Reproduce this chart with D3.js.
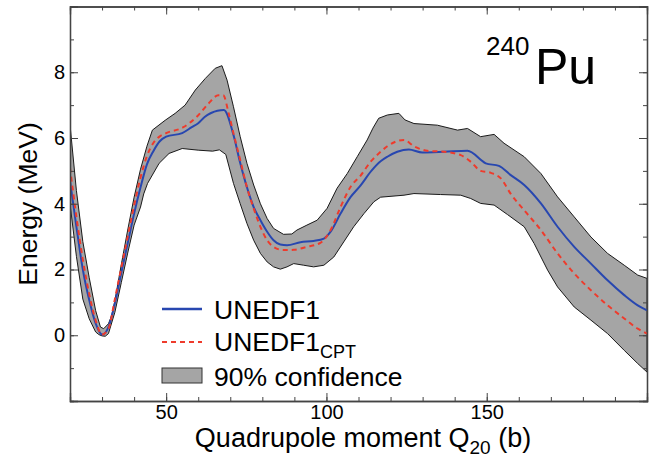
<!DOCTYPE html>
<html>
<head>
<meta charset="utf-8">
<script src="https://cdn.jsdelivr.net/npm/d3@7"></script>
<style>
  body { margin: 0; background: #fff; }
  svg { display: block; font-family: "Liberation Sans", Arial, sans-serif; }
</style>
</head>
<body>
<svg id="chart" width="656" height="461"></svg>
<script>
// UNEDF1 (blue solid)
const unedfQ = [20, 22, 24, 26, 28, 30, 32, 34, 36, 38, 40, 42, 44, 46, 48, 50, 55, 58, 60, 62, 64, 66, 68,
  71, 73.1, 75.2, 77.3, 79.4, 81.5, 83.5, 85.6, 87.7, 91.9, 96, 99.2, 101.3, 104.4, 107.5, 110.6, 114, 117,
  119, 122.1, 125.7, 129.9, 136.7, 144, 149.7, 153.8, 157.5, 161.7, 166.9, 172.1, 177.3, 182.5, 187.7, 192.9, 197.1, 200];
const unedfE = [4.7, 3.3, 2.0, 1.07, 0.36, 0.02, 0.25, 0.97, 1.9, 2.8, 3.7, 4.5, 5.2, 5.6, 5.9, 6.04, 6.15, 6.33, 6.45, 6.64, 6.76, 6.83, 6.85,
  6.09, 5.24, 4.5, 3.9, 3.5, 3.15, 2.89, 2.76, 2.74, 2.83, 2.87, 2.94, 3.15, 3.7, 4.2, 4.55, 5.0, 5.3,
  5.43, 5.58, 5.65, 5.56, 5.58, 5.61, 5.23, 5.15, 4.87, 4.57, 4.01, 3.3, 2.69, 2.18, 1.67, 1.22, 0.91, 0.76];

// UNEDF1_CPT (red dashed)
const cptQ = [20, 22, 24, 26, 28, 30, 32, 34, 36, 38, 40, 42, 44, 46, 48, 50, 55.2, 60.1, 63.2, 66.3, 67.8,
  69.5, 71, 73.1, 75.2, 77.3, 79.4, 81.5, 83.5, 86.6, 89.8, 93.9, 98.1, 101.3, 104.4, 107.5, 110.6, 113.8,
  116.9, 119, 124.2, 127.3, 131.5, 136.7, 141.9, 145, 148.1, 151.3, 154.4, 157.5, 161.7, 166.9, 172.1,
  177.3, 182.5, 187.7, 192.9, 197.1, 200];
const cptE = [5.1, 3.6, 2.3, 1.25, 0.45, 0.02, 0.2, 1.1, 2.05, 3.0, 3.95, 4.8, 5.45, 5.85, 6.05, 6.15, 6.32, 6.7, 7.05, 7.3, 7.3,
  6.75, 6.14, 5.33, 4.5, 3.86, 3.3, 2.89, 2.69, 2.59, 2.6, 2.69, 2.81, 3.2, 3.9, 4.51, 4.85, 5.28,
  5.58, 5.75, 5.94, 5.75, 5.61, 5.58, 5.48, 5.28, 5.0, 4.94, 4.77, 4.3, 3.8, 3.2, 2.49,
  1.88, 1.37, 0.91, 0.51, 0.2, 0.05];

// 90% confidence band, upper edge
const upperQ = [20, 22, 24, 26, 28, 29.5, 30.5, 32, 33, 34, 36, 38, 40, 42, 44, 45.7, 49.7, 52.8, 55.9, 59.1, 62.2,
  65.3, 67.4, 69, 71, 73.1, 75.2, 77.3, 79.4, 81.5, 83.5, 86.6, 89.2, 90.8, 93.9, 97.1, 100.2, 103.3, 106.5,
  109.6, 112.7, 114.5, 116.3, 119, 122.6, 124.5, 127.3, 134.6, 140.9, 144, 148.1, 152.3, 155.4, 161.7, 166.9,
  172.1, 177.3, 182.5, 187.7, 192.9, 197.1, 200];
const upperE = [6.4, 4.4, 2.85, 1.75, 0.75, 0.25, 0.2, 0.35, 0.6, 1.05, 2.15, 3.2, 4.2, 5.05, 5.75, 6.24, 6.54, 6.75, 7.0, 7.46, 7.81,
  8.12, 8.2, 7.76, 6.95, 6.04, 5.23, 4.57, 4.0, 3.55, 3.25, 3.07, 3.08, 3.2, 3.35, 3.5, 3.86, 4.47, 4.92,
  5.43, 5.94, 6.3, 6.6, 6.7, 6.75, 6.55, 6.44, 6.39, 6.24, 6.29, 6.04, 6.11, 5.84, 5.43, 4.92,
  4.21, 3.6, 2.99, 2.49, 2.13, 1.83, 1.73];

// 90% confidence band, lower edge
const lowerQ = [20, 22, 24, 26, 28, 29, 30, 31, 32, 34, 36, 38, 40, 42, 43, 44.2, 47.8, 50.9, 55, 60, 64.5, 66.6,
  68.6, 71, 73.1, 75.2, 77.3, 79.4, 81.5, 83.5, 85.6, 87.7, 89.8, 92.9, 96, 99.2, 102.3, 105.4, 108.5, 111.7,
  114.8, 116.9, 124.2, 127.3, 135.6, 141.9, 145, 148.1, 152.3, 156.5, 161.7, 164.8, 169, 172.1, 177.3, 182.5,
  187.7, 192.9, 197.1, 200];
const lowerE = [4.0, 2.4, 1.1, 0.5, 0.1, 0.02, -0.02, -0.03, 0.05, 0.7, 1.6, 2.5, 3.35, 3.9, 4.3, 4.62, 5.23, 5.53, 5.68, 5.63, 5.6, 5.64,
  5.5, 4.62, 4.0, 3.4, 2.89, 2.49, 2.23, 2.08, 2.01, 2.08, 2.18, 2.13, 2.08, 2.13, 2.38, 2.84, 3.3, 3.7,
  4.06, 4.2, 4.26, 4.31, 4.28, 4.26, 4.16, 4.01, 3.96, 3.67, 3.3, 2.79, 1.98, 1.47, 0.86, 0.46,
  0.05, -0.46, -0.86, -1.12];

const xMajor = [50, 100, 150];
const yMajor = [0, 2, 4, 6, 8];

const width = 656, height = 461;
const margin = { top: 6.5, right: 9, bottom: 60, left: 70 };

const svg = d3.select('#chart');

const x = d3.scaleLinear().domain([20, 200]).range([margin.left, width - margin.right]);
const y = d3.scaleLinear().domain([-2, 10]).range([height - margin.bottom, margin.top]);

svg.append('clipPath')
    .attr('id', 'plot-clip')
  .append('rect')
    .attr('x', x(20))
    .attr('y', y(10))
    .attr('width', x(200) - x(20))
    .attr('height', y(-2) - y(10));

const plot = svg.append('g').attr('clip-path', 'url(#plot-clip)');

const line = d3.line()
    .x(d => x(d[0]))
    .y(d => y(d[1]))
    .curve(d3.curveMonotoneX);

const pts = (qs, es) => qs.map((q, i) => [q, es[i]]);

// confidence band: upper edge forward, lower edge back
const bandPts = pts(upperQ, upperE).concat(pts(lowerQ, lowerE).reverse());
plot.append('path')
    .attr('d', d3.line().x(d => x(d[0])).y(d => y(d[1])).curve(d3.curveLinearClosed)(bandPts))
    .attr('fill', '#a5a5a5')
    .attr('stroke', '#1a1a1a')
    .attr('stroke-width', 1);

plot.append('path')
    .attr('d', line(pts(unedfQ, unedfE)))
    .attr('fill', 'none')
    .attr('stroke', '#2847b0')
    .attr('stroke-width', 2);

plot.append('path')
    .attr('d', line(pts(cptQ, cptE)))
    .attr('fill', 'none')
    .attr('stroke', '#ee3b2c')
    .attr('stroke-width', 2)
    .attr('stroke-dasharray', '5,4');

// Axes (ticks point inward, major + minor)
const axisColor = '#444';
function styleAxis(g) {
    g.select('.domain').attr('stroke', axisColor).attr('stroke-width', 1.3);
    g.selectAll('.tick line').attr('stroke', axisColor).attr('stroke-width', 1);
    g.selectAll('.tick text').attr('fill', '#000').style('font-size', '20px')
        .style('font-family', '"Liberation Sans", Arial, sans-serif');
}
const xMinor = d3.range(20, 201, 10);
const yMinor = d3.range(-2, 10.1, 1);
const yAll = d3.range(-2, 10.1, 2);

const bottomY = y(-2), topY = y(10), leftX = x(20), rightX = x(200);

// bottom
svg.append('g').attr('transform', `translate(0,${bottomY})`)
    .call(d3.axisBottom(x).tickValues(xMinor).tickSize(-4).tickFormat('')).call(styleAxis);
svg.append('g').attr('transform', `translate(0,${bottomY})`)
    .call(d3.axisBottom(x).tickValues(xMajor).tickSize(-8).tickPadding(4).tickFormat(d3.format('d'))).call(styleAxis);
// top
svg.append('g').attr('transform', `translate(0,${topY})`)
    .call(d3.axisTop(x).tickValues(xMinor).tickSize(-4).tickFormat('')).call(styleAxis);
svg.append('g').attr('transform', `translate(0,${topY})`)
    .call(d3.axisTop(x).tickValues(xMajor).tickSize(-8).tickFormat('')).call(styleAxis);
// left
svg.append('g').attr('transform', `translate(${leftX},0)`)
    .call(d3.axisLeft(y).tickValues(yMinor).tickSize(-4).tickFormat('')).call(styleAxis);
svg.append('g').attr('transform', `translate(${leftX},0)`)
    .call(d3.axisLeft(y).tickValues(yAll).tickSize(-8).tickPadding(5)
        .tickFormat(d => yMajor.includes(d) ? d : '')).call(styleAxis);
// right
svg.append('g').attr('transform', `translate(${rightX},0)`)
    .call(d3.axisRight(y).tickValues(yMinor).tickSize(-4).tickFormat('')).call(styleAxis);
svg.append('g').attr('transform', `translate(${rightX},0)`)
    .call(d3.axisRight(y).tickValues(yAll).tickSize(-8).tickFormat('')).call(styleAxis);

// Axis titles
const xTitle = svg.append('text')
    .attr('x', 363)
    .attr('y', 447)
    .attr('text-anchor', 'middle')
    .style('font-size', '27px')
    .attr('fill', '#000');
xTitle.append('tspan').text('Quadrupole moment Q');
xTitle.append('tspan').attr('dy', 7).style('font-size', '19px').text('20');
xTitle.append('tspan').attr('dy', -7).text(' (b)');

svg.append('text')
    .attr('transform', 'rotate(-90)')
    .attr('x', -204)
    .attr('y', 37)
    .attr('text-anchor', 'middle')
    .style('font-size', '26.5px')
    .attr('fill', '#000')
    .text('Energy (MeV)');

// Nucleus label
const nuc = svg.append('text').attr('fill', '#000');
nuc.append('tspan').attr('x', 486).attr('y', 55).style('font-size', '26px').text('240');
nuc.append('tspan').attr('x', 535).attr('y', 84).style('font-size', '50px').text('Pu');

// Legend
const legend = svg.append('g');
legend.append('line')
    .attr('x1', 162).attr('x2', 202).attr('y1', 309).attr('y2', 309)
    .attr('stroke', '#2847b0').attr('stroke-width', 2.5);
legend.append('line')
    .attr('x1', 162).attr('x2', 202).attr('y1', 342).attr('y2', 342)
    .attr('stroke', '#ee3b2c').attr('stroke-width', 2).attr('stroke-dasharray', '5,4');
legend.append('rect')
    .attr('x', 162).attr('y', 368).attr('width', 40).attr('height', 15)
    .attr('fill', '#a5a5a5').attr('stroke', '#333').attr('stroke-width', 1);

legend.append('text').attr('x', 214).attr('y', 319).style('font-size', '26.5px').text('UNEDF1');
const cptLabel = legend.append('text').attr('x', 214).attr('y', 351).style('font-size', '26.5px');
cptLabel.append('tspan').text('UNEDF1');
cptLabel.append('tspan').attr('dy', 7).style('font-size', '18px').text('CPT');
legend.append('text').attr('x', 214).attr('y', 386).style('font-size', '26.5px').text('90% confidence');
</script>
</body>
</html>
